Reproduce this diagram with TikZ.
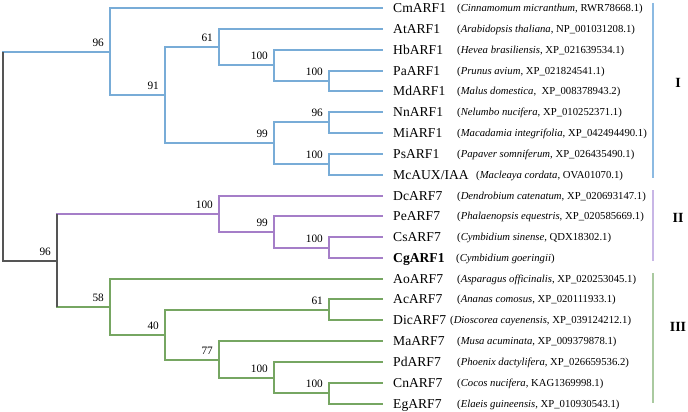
\documentclass[tikz,border=0pt]{standalone}
\usepackage{fontspec}
\setmainfont{Liberation Serif}
\definecolor{cI}{RGB}{120,172,215}
\definecolor{cII}{RGB}{165,126,200}
\definecolor{cIII}{RGB}{118,166,98}
\definecolor{cR}{RGB}{85,85,85}
\definecolor{bI}{RGB}{140,186,226}
\definecolor{bII}{RGB}{200,182,230}
\definecolor{bIII}{RGB}{170,202,160}
\tikzset{
  br/.style={line width=1.5pt},
  leafname/.style={anchor=base west,inner sep=0pt,font=\fontsize{13.6}{15}\selectfont},
  sp/.style={anchor=base west,inner sep=0pt,font=\fontsize{10.7}{12}\selectfont},
  boot/.style={anchor=base east,inner sep=0pt,font=\fontsize{11.3}{12}\selectfont},
  grp/.style={anchor=center,inner sep=0pt,font=\fontsize{14}{15}\selectfont\bfseries},
  bar/.style={line width=2pt}
}
\begin{document}
\begin{tikzpicture}[x=1pt,y=-1pt]
\useasboundingbox (0,0) rectangle (688,412);
% leaf ends
\foreach \n/\yy in {Cm/8,At/29,Hb/50,Pa/71,Md/91,Nn/112,Mi/133,Ps/154,Mc/175,Dc/196,Pe/216,Cs/237,Cg/258,Ao/279,Ac/299,Dic/320,Ma/341,Pd/362,Cn/383,Eg/404}{
  \coordinate (\n) at (383,\yy);
}
% internal nodes
\coordinate (nPaMd) at (329,81);
\coordinate (nHb) at (274,65);
\coordinate (n61) at (219,47);
\coordinate (nNnMi) at (329,122);
\coordinate (nPsMc) at (329,164);
\coordinate (n99) at (274,143);
\coordinate (n91) at (165,95);
\coordinate (nI) at (110,52);
\coordinate (nCsCg) at (329,248);
\coordinate (n99b) at (274,232);
\coordinate (nII) at (219,214);
\coordinate (nCnEg) at (329,393);
\coordinate (n100b) at (274,378);
\coordinate (n77) at (219,360);
\coordinate (n61b) at (329,310);
\coordinate (n40) at (165,335);
\coordinate (nIII) at (110,307);
\coordinate (nIIIII) at (57,261);
\coordinate (root) at (3,156);
% clade I
\begin{scope}[br,cI]
\draw (root) |- (nI);
\draw (nI) |- (Cm); \draw (nI) |- (n91);
\draw (n91) |- (n61); \draw (n91) |- (n99);
\draw (n61) |- (At); \draw (n61) |- (nHb);
\draw (nHb) |- (Hb); \draw (nHb) |- (nPaMd);
\draw (nPaMd) |- (Pa); \draw (nPaMd) |- (Md);
\draw (n99) |- (nNnMi); \draw (n99) |- (nPsMc);
\draw (nNnMi) |- (Nn); \draw (nNnMi) |- (Mi);
\draw (nPsMc) |- (Ps); \draw (nPsMc) |- (Mc);
\end{scope}
% clade II
\begin{scope}[br,cII]
\draw (nIIIII) |- (nII);
\draw (nII) |- (Dc); \draw (nII) |- (n99b);
\draw (n99b) |- (Pe); \draw (n99b) |- (nCsCg);
\draw (nCsCg) |- (Cs); \draw (nCsCg) |- (Cg);
\end{scope}
% clade III
\begin{scope}[br,cIII]
\draw (nIIIII) |- (nIII);
\draw (nIII) |- (Ao); \draw (nIII) |- (n40);
\draw (n40) |- (n61b); \draw (n40) |- (n77);
\draw (n61b) |- (Ac); \draw (n61b) |- (Dic);
\draw (n77) |- (Ma); \draw (n77) |- (n100b);
\draw (n100b) |- (Pd); \draw (n100b) |- (nCnEg);
\draw (nCnEg) |- (Cn); \draw (nCnEg) |- (Eg);
\end{scope}
% root (gray)
\begin{scope}[br,cR]
\draw (root |- nI) -- (root |- nIIIII) -- (nIIIII);
\draw (nIIIII |- nII) -- (nIIIII |- nIII);
\end{scope}
% bootstrap values
\node[boot] (b1) at ([shift={(-6,-5.5)}]nI) {96};
\node[boot] (b2) at ([shift={(-6,-5.5)}]n91) {91};
\node[boot] (b3) at ([shift={(-6,-5.5)}]n61) {61};
\node[boot] (b4) at ([shift={(-6,-5.5)}]nHb) {100};
\node[boot] (b5) at ([shift={(-6,-5.5)}]nPaMd) {100};
\node[boot] (b6) at ([shift={(-6,-5.5)}]n99) {99};
\node[boot] (b7) at ([shift={(-6,-5.5)}]nNnMi) {96};
\node[boot] (b8) at ([shift={(-6,-5.5)}]nPsMc) {100};
\node[boot] (b9) at ([shift={(-6,-5.5)}]nIIIII) {96};
\node[boot] (b10) at ([shift={(-6,-5.5)}]nII) {100};
\node[boot] (b11) at ([shift={(-6,-5.5)}]n99b) {99};
\node[boot] (b12) at ([shift={(-6,-5.5)}]nCsCg) {100};
\node[boot] (b13) at ([shift={(-6,-5.5)}]nIII) {58};
\node[boot] (b14) at ([shift={(-6,-5.5)}]n40) {40};
\node[boot] (b15) at ([shift={(-6,-5.5)}]n61b) {61};
\node[boot] (b16) at ([shift={(-6,-5.5)}]n77) {77};
\node[boot] (b17) at ([shift={(-6,-5.5)}]n100b) {100};
\node[boot] (b18) at ([shift={(-6,-5.5)}]nCnEg) {100};
% leaf names and species
\foreach \n/\lab/\px/\sptext in {
  Cm/CmARF1/457/{(\textit{Cinnamomum micranthum}, RWR78668.1)},
  At/AtARF1/457/{(\textit{Arabidopsis thaliana}, NP\_001031208.1)},
  Hb/HbARF1/457/{(\textit{Hevea brasiliensis}, XP\_021639534.1)},
  Pa/PaARF1/457/{(\textit{Prunus avium}, XP\_021824541.1)},
  Md/MdARF1/457/{(\textit{Malus domestica},\ \ XP\_008378943.2)},
  Nn/NnARF1/457/{(\textit{Nelumbo nucifera}, XP\_010252371.1)},
  Mi/MiARF1/457/{(\textit{Macadamia integrifolia}, XP\_042494490.1)},
  Ps/PsARF1/457/{(\textit{Papaver somniferum}, XP\_026435490.1)},
  Mc/{McAUX/IAA}/476/{(\textit{Macleaya cordata}, OVA01070.1)},
  Dc/DcARF7/457/{(\textit{Dendrobium catenatum}, XP\_020693147.1)},
  Pe/PeARF7/457/{(\textit{Phalaenopsis equestris}, XP\_020585669.1)},
  Cs/CsARF7/457/{(\textit{Cymbidium sinense}, QDX18302.1)},
  Cg/\textbf{CgARF1}/456/{(\textit{Cymbidium goeringii})},
  Ao/AoARF7/457/{(\textit{Asparagus officinalis}, XP\_020253045.1)},
  Ac/AcARF7/457/{(\textit{Ananas comosus}, XP\_020111933.1)},
  Dic/DicARF7/450/{(\textit{Dioscorea cayenensis}, XP\_039124212.1)},
  Ma/MaARF7/457/{(\textit{Musa acuminata}, XP\_009379878.1)},
  Pd/PdARF7/457/{(\textit{Phoenix dactylifera}, XP\_026659536.2)},
  Cn/CnARF7/457/{(\textit{Cocos nucifera}, KAG1369998.1)},
  Eg/EgARF7/457/{(\textit{Elaeis guineensis}, XP\_010930543.1)}}{
  \node[leafname] (\n-name) at ([shift={(10,4.6)}]\n) {\lab};
  \path (\n) ++(0,3.8) coordinate (\n-b);
  \node[sp] (\n-sp) at (\px,0 |- \n-b) {\sptext};
}
% group bars
\draw[bar,bI] (653,3) coordinate (gI1) -- (653,178) coordinate (gI2);
\draw[bar,bII] (653,190) coordinate (gII1) -- (653,261) coordinate (gII2);
\draw[bar,bIII] (653,273) coordinate (gIII1) -- (653,403) coordinate (gIII2);
\node[grp] (gI) at (678,83) {I};
\node[grp] (gII) at (678,218) {II};
\node[grp] (gIII) at (678,327) {III};
\end{tikzpicture}
\end{document}
